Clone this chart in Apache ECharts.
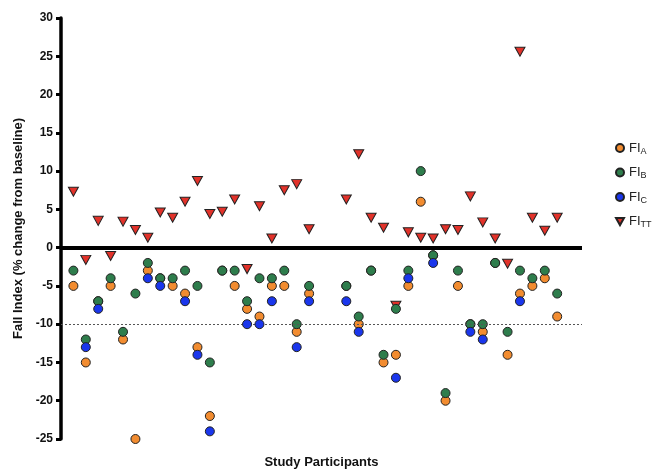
<!DOCTYPE html>
<html>
<head>
<meta charset="utf-8">
<script src="https://cdn.jsdelivr.net/npm/echarts@6/dist/echarts.min.js"></script>
<style>html,body{margin:0;padding:0;background:#fff}#c{width:653px;height:469px}</style>
</head>
<body>
<div id="c"></div>
<script>
// Participant index (1..40; 21 and 22 have no data)
const participants = [1,2,3,4,5,6,7,8,9,10,11,12,13,14,15,16,17,18,19,20,23,24,25,26,27,28,29,30,31,32,33,34,35,36,37,38,39,40];
const fiA  = [-5,-15,-7,-5,-12,-25,-3,-4,-5,-6,-13,-22,-3,-5,-8,-9,-5,-5,-11,-6,-5,-10,-3,-15,-14,-5,6,-1,-20,-5,-10,-11,-2,-14,-6,-5,-4,-9];
const fiB  = [-3,-12,-7,-4,-11,-6,-2,-4,-4,-3,-5,-15,-3,-3,-7,-4,-4,-3,-10,-5,-5,-9,-3,-14,-8,-3,10,-1,-19,-3,-10,-10,-2,-11,-3,-4,-3,-6];
const fiC  = [null,-13,-8,null,null,null,-4,-5,null,-7,-14,-24,null,null,-10,-10,-7,null,-13,-7,-7,-11,null,null,-17,-4,null,-2,null,null,-11,-12,null,null,-7,null,null,null];
const fiTT = [7.3,-1.6,3.5,-1.1,3.4,2.3,1.3,4.6,3.9,6.0,8.7,4.4,4.7,6.3,-2.8,5.4,1.2,7.5,8.3,2.4,6.3,12.2,3.9,2.6,-7.6,2.0,1.3,1.2,2.4,2.3,6.7,3.3,1.2,-2.1,25.6,3.9,2.2,3.9];
const yTicks = [-25,-20,-15,-10,-5,0,5,10,15,20,25,30];
const seriesNames = ['FI_A','FI_B','FI_C','FI_TT'];
const subs = {FI_A:'A', FI_B:'B', FI_C:'C', FI_TT:'TT'};

function pts(vals){ return participants.map((p,i)=> vals[i]==null ? null : [p, vals[i]]).filter(d=>d); }

const FONT = 'Liberation Sans, Arial, sans-serif';
const tri = 'path://M0,0L10,0L5,9Z';
const chart = echarts.init(document.getElementById('c'), null, {renderer:'canvas'});
chart.setOption({
  animation:false,
  backgroundColor:'#fff',
  textStyle:{fontFamily:FONT},
  grid:{left:61,right:71,top:18,bottom:30,containLabel:false,outerBoundsMode:'none'},
  legend:{
    data:seriesNames,
    orient:'vertical', left:610, top:135,
    itemWidth:8, itemHeight:8, itemGap:8.5,
    formatter: n => '{b|FI}{s|' + subs[n] + '}',
    textStyle:{
      color:'#222', fontFamily:FONT,
      rich:{
        b:{fontSize:13, color:'#222', fontFamily:FONT, lineHeight:15},
        s:{fontSize:9, color:'#222', fontFamily:FONT, padding:[7,0,0,0], lineHeight:15}
      }
    }
  },
  xAxis:{
    type:'value', min:0, max:42,
    axisLine:{show:false, onZero:false}, axisTick:{show:false}, axisLabel:{show:false}, splitLine:{show:false},
    name:'Study Participants', nameLocation:'middle', nameGap:17,
    nameTextStyle:{fontSize:13, fontWeight:'bold', color:'#111', fontFamily:FONT}
  },
  yAxis:{
    type:'value', min:yTicks[0], max:yTicks[yTicks.length-1], interval:5,
    axisLine:{show:true, lineStyle:{color:'#000', width:3.5}},
    axisTick:{show:true, length:5, lineStyle:{color:'#000', width:3}},
    axisLabel:{fontSize:12, fontWeight:'bold', color:'#111', margin:8, fontFamily:FONT},
    splitLine:{show:false},
    name:'Fall Index (% change from baseline)', nameLocation:'middle', nameGap:36, nameRotate:90,
    nameTextStyle:{fontSize:13, fontWeight:'bold', color:'#111', fontFamily:FONT}
  },
  series:[
    {name:'FI_TT', type:'scatter', data:pts(fiTT), symbol:tri, symbolSize:[10,9], z:2,
     itemStyle:{color:'#E2322A', borderColor:'#222', borderWidth:1, opacity:1},
     markLine:{silent:true, symbol:'none', label:{show:false},
       data:[
         {yAxis:0, lineStyle:{color:'#000', width:4, type:'solid'}},
         {yAxis:-10, lineStyle:{color:'#555', width:1, type:[2,2]}}
       ]}},
    {name:'FI_A', type:'scatter', data:pts(fiA), symbol:'circle', symbolSize:9, z:3,
     itemStyle:{color:'#F28C30', borderColor:'#222', borderWidth:1, opacity:1}},
    {name:'FI_B', type:'scatter', data:pts(fiB), symbol:'circle', symbolSize:9, z:4,
     itemStyle:{color:'#2E7D4C', borderColor:'#222', borderWidth:1, opacity:1}},
    {name:'FI_C', type:'scatter', data:pts(fiC), symbol:'circle', symbolSize:9, z:5,
     itemStyle:{color:'#1A36EC', borderColor:'#222', borderWidth:1, opacity:1}}
  ]
});
</script>
</body>
</html>
